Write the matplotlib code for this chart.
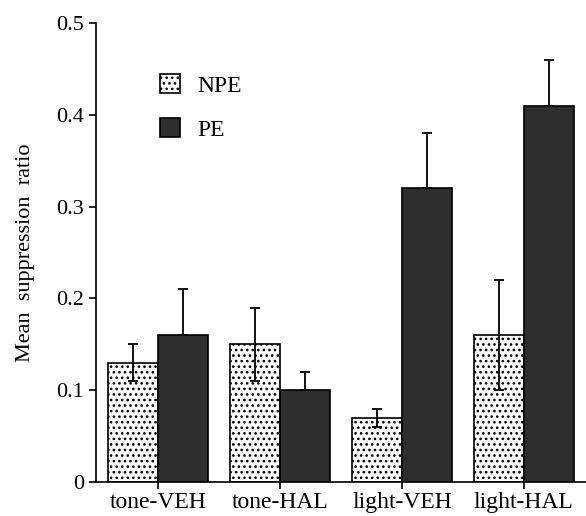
import matplotlib.pyplot as plt
import numpy as np

groups = ['tone-VEH', 'tone-HAL', 'light-VEH', 'light-HAL']
npe = [0.13, 0.15, 0.07, 0.16]
npe_err = [0.02, 0.04, 0.01, 0.06]
pe = [0.16, 0.10, 0.32, 0.41]
pe_err = [0.05, 0.02, 0.06, 0.05]

plt.rcParams['font.family'] = ['Liberation Serif', 'DejaVu Serif']
plt.rcParams['hatch.color'] = '#333333'
plt.rcParams['hatch.linewidth'] = 1.1

fig = plt.figure(figsize=(5.86, 5.16), dpi=100)
ax = fig.add_axes([0.1638, 0.066, 0.8362, 0.8894])

x = np.arange(len(groups))
w = 0.41
ax.bar(x - w / 2, npe, w, color='white', edgecolor='black', linewidth=1.2,
       hatch='...', label='NPE')
ax.bar(x + w / 2, pe, w, color='#2e2e2e', edgecolor='black', linewidth=1.2,
       label='PE')
ax.errorbar(x - w / 2, npe, yerr=npe_err, fmt='none', ecolor='black',
            elinewidth=1.3, capsize=3.6, capthick=1.3)
ax.errorbar(x + w / 2, pe, yerr=[np.zeros(4), pe_err], fmt='none', ecolor='black',
            elinewidth=1.3, capsize=3.6, capthick=1.3)

ax.set_xlim(-0.51, 3.51)
ax.set_ylim(0, 0.5)
ax.set_yticks([0, 0.1, 0.2, 0.3, 0.4, 0.5])
ax.set_yticklabels(['0', '0.1', '0.2', '0.3', '0.4', '0.5'])
ax.set_xticks(x)
ax.set_xticklabels(groups)
ax.tick_params(width=1.2, length=5, color='black')
ax.tick_params(axis='y', labelsize=16)
ax.tick_params(axis='x', labelsize=17, pad=2)
ax.spines['top'].set_visible(False)
ax.spines['right'].set_visible(False)
ax.spines['left'].set_linewidth(1.2)
ax.spines['bottom'].set_linewidth(1.2)
ax.set_ylabel('Mean  suppression  ratio', fontsize=16, labelpad=15)

ax.legend(loc='upper left', bbox_to_anchor=(0.088, 0.935), frameon=False,
          fontsize=17, handlelength=0.85, handleheight=0.85, handletextpad=0.7,
          labelspacing=0.9)

fig.savefig('out.png', dpi=100)
